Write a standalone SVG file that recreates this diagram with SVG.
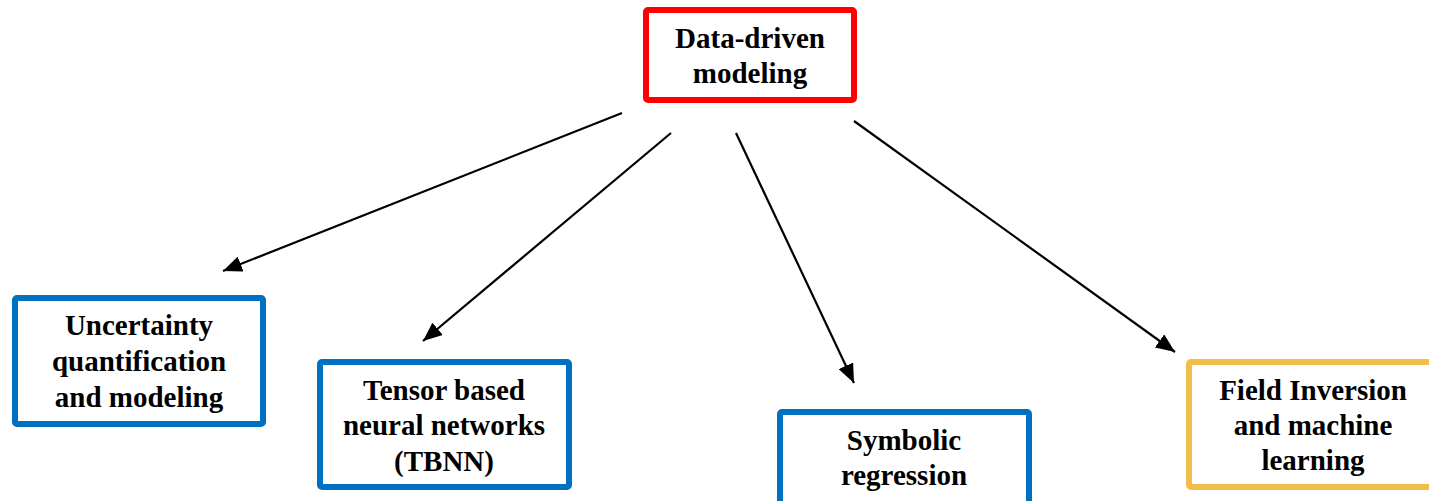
<svg xmlns="http://www.w3.org/2000/svg" width="1429" height="501" viewBox="0 0 1429 501">
<style>
.box{fill:#fff;stroke-width:6}
.red{stroke:#FF0000}
.blue{stroke:#0070C0}
.gold{stroke:#F2BE4A}
text{font-family:"Liberation Serif","Times New Roman",serif;font-weight:bold;font-size:29px;fill:#000;text-anchor:middle}
.conn{stroke:#000;stroke-width:2.2;fill:none;marker-end:url(#ah)}
</style>
<defs>
<marker id="ah" markerUnits="userSpaceOnUse" markerWidth="20" markerHeight="16" refX="19" refY="8" orient="auto">
<path d="M0,0 L19,8 L0,16 Z" fill="#000"/>
</marker>
</defs>
<rect width="1429" height="501" fill="#fff"/>
<g id="connectors">
<line class="conn" x1="622" y1="113" x2="223" y2="271"/>
<line class="conn" x1="671" y1="133" x2="423" y2="341"/>
<line class="conn" x1="736" y1="133" x2="854" y2="383"/>
<line class="conn" x1="854" y1="121" x2="1175" y2="352"/>
</g>
<g id="data-driven">
<rect class="box red" x="646" y="10" width="208" height="90" rx="2"/>
<text x="750" y="48">Data-driven</text>
<text x="750" y="83">modeling</text>
</g>
<g id="uncertainty">
<rect class="box blue" x="15" y="298" width="248" height="126" rx="2"/>
<text x="139" y="335">Uncertainty</text>
<text x="139" y="371">quantification</text>
<text x="139" y="407">and modeling</text>
</g>
<g id="tbnn">
<rect class="box blue" x="320" y="362" width="249" height="125" rx="2"/>
<text x="444" y="400">Tensor based</text>
<text x="444" y="435">neural networks</text>
<text x="444" y="471">(TBNN)</text>
</g>
<g id="symbolic">
<rect class="box blue" x="780" y="412" width="249" height="110" rx="2"/>
<text x="904" y="450">Symbolic</text>
<text x="904" y="485">regression</text>
</g>
<g id="field-inversion">
<rect class="box gold" x="1189" y="362" width="250" height="125" rx="2"/>
<text x="1313" y="400">Field Inversion</text>
<text x="1313" y="435">and machine</text>
<text x="1313" y="470">learning</text>
</g>
</svg>
